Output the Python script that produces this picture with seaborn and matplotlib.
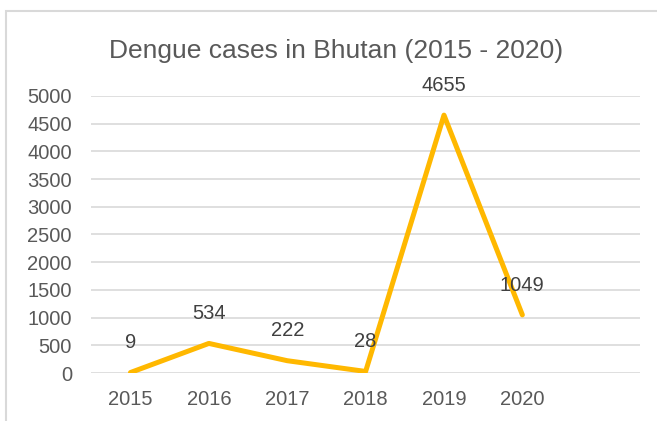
import matplotlib
matplotlib.use("Agg")
import matplotlib.pyplot as plt
import seaborn as sns
import pandas as pd
from matplotlib.patches import Rectangle

# data
years = ["2015", "2016", "2017", "2018", "2019", "2020"]
cases = [9, 534, 222, 28, 4655, 1049]
y_ticks = list(range(0, 5001, 500))

df = pd.DataFrame({"pos": range(len(years)), "year": years, "cases": cases})

sns.set_style("white")
plt.rcParams["font.family"] = ["Liberation Sans", "DejaVu Sans"]

fig = plt.figure(figsize=(6.57, 4.21), dpi=100)
ax = fig.add_axes([0.139, 0.114, 0.835, 0.658])

sns.lineplot(data=df, x="pos", y="cases", color="#FFB800", linewidth=3.6, ax=ax)

# data labels above each point
for _, row in df.iterrows():
    ax.annotate(str(row["cases"]), (row["pos"], row["cases"]), xytext=(0, 21.5),
                textcoords="offset points", ha="center", va="center",
                fontsize=14.5, color="#404040")

ax.set_xlim(-0.5, 6.5)
ax.set_ylim(0, 5000)
ax.set_xticks(range(len(years)))
ax.set_xticklabels(years)
ax.set_yticks(y_ticks)
ax.tick_params(axis="both", length=0, labelsize=14.5, labelcolor="#595959")
ax.tick_params(axis="x", pad=12.5)
ax.tick_params(axis="y", pad=14)
ax.set_xlabel("")
ax.set_ylabel("")
ax.grid(axis="y", color="#d9d9d9", linewidth=1.2)
ax.set_axisbelow(True)
sns.despine(ax=ax, left=True, bottom=True)

ax.set_title("Dengue cases in Bhutan (2015 - 2020)", fontsize=19, color="#595959",
             x=0.447, pad=27.5)

# chart frame like the spreadsheet export
fig.patches.append(Rectangle((6 / 657, -0.1), 1.0, 1.1 - 11 / 421, transform=fig.transFigure,
                             fill=False, edgecolor="#d9d9d9", linewidth=1.5))

fig.savefig("out.png", dpi=100)
